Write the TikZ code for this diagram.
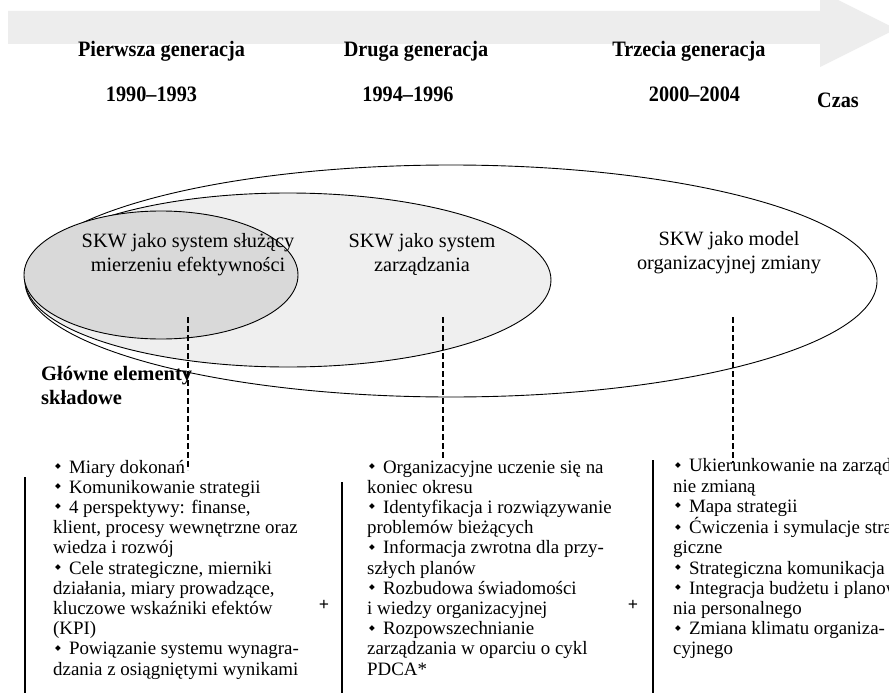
\documentclass[tikz,border=0pt]{standalone}
\usepackage{fontspec}
\setmainfont{Liberation Serif}
\newfontfamily\hdfont[FakeStretch=0.92]{Liberation Serif}
\newfontfamily\symfont{DejaVu Sans}
\usetikzlibrary{shapes.geometric}
\newcommand\bu{\hspace*{2pt}\raisebox{0.24em}{\scalebox{0.4}{\symfont ◆}}\hspace{8pt}}
\definecolor{bandgray}{HTML}{EDEDED}
\definecolor{midgray}{HTML}{EFEFEF}
\definecolor{darkgray}{HTML}{D9D9D9}
\tikzset{
  hdr/.style={font=\hdfont\bfseries\fontsize{22}{24}\selectfont, inner sep=0pt, anchor=base},
  elltxt/.style={font=\fontsize{20.3}{24}\selectfont, align=center, inner sep=0pt, anchor=base},
  coltxt/.style={font=\fontsize{18.9}{20.2}\selectfont, align=left, inner sep=0pt, anchor=base west},
  bigbold/.style={font=\bfseries\fontsize{20.5}{23.5}\selectfont, align=left, inner sep=0pt, anchor=base west},
  plus/.style={font=\bfseries\fontsize{18}{20}\selectfont, inner sep=0pt},
  barline/.style={line width=2.7pt},
  dashline/.style={line width=1.1pt, dash pattern=on 6pt off 3pt},
  ell/.style={ellipse, draw=black, line width=0.9pt, inner sep=0pt}
}
\begin{document}
\begin{tikzpicture}[x=1pt,y=-1pt]
\useasboundingbox (0,0) rectangle (889,693);
\clip (0,0) rectangle (889,693);
\fill[white] (0,0) rectangle (889,693);
% time arrow
\fill[bandgray] (8,11) -- (820,11) -- (820,-9) -- (896,29) -- (820,67) -- (820,44) -- (8,44) -- cycle;
\node[hdr] (g1) at (161.5,57) {Pierwsza generacja};
\node[hdr] (g2) at (416,57) {Druga generacja};
\node[hdr] (g3) at (689,57) {Trzecia generacja};
\node[hdr] (y1) at (151.5,101) {1990–1993};
\node[hdr] (y2) at (408,101) {1994–1996};
\node[hdr] (y3) at (694.5,101) {2000–2004};
\node[hdr] (czas) at (838,107) {Czas};
% ellipses
\node[ell, fill=white, minimum width=852pt, minimum height=232pt] (e3) at (451,281) {};
\node[ell, fill=midgray, minimum width=526pt, minimum height=174pt] (e2) at (288,280) {};
\node[ell, fill=darkgray, minimum width=274pt, minimum height=128pt] (e1) at (161,275) {};
\node[elltxt] (t1) at (188,271) {SKW jako system służący\\mierzeniu efektywności};
\node[elltxt] (t2) at (422,271) {SKW jako system\\zarządzania};
\node[elltxt] (t3) at (729,269) {SKW jako model\\organizacyjnej zmiany};
\node[bigbold] (gl) at (41,404) {Główne elementy\\składowe};
% dashed connectors
\coordinate (d1a) at (188,317); \coordinate (d1b) at (188,470);
\coordinate (d2a) at (443,317); \coordinate (d2b) at (443,460);
\coordinate (d3a) at (733,317); \coordinate (d3b) at (733,463);
\draw[dashline] (d1a) -- (d1b);
\draw[dashline] (d2a) -- (d2b);
\draw[dashline] (d3a) -- (d3b);
% columns
\draw[barline] (25,477) -- (25,693);
\draw[barline] (342,482) -- (342,693);
\draw[barline] (653,460) -- (653,693);
\node[coltxt] (c1) at (53,675) {\bu Miary dokonań\\
\bu Komunikowanie strategii\\
\bu 4 perspektywy: finanse,\\
klient, procesy wewnętrzne oraz\\
wiedza i rozwój\\
\bu Cele strategiczne, mierniki\\
działania, miary prowadzące,\\
kluczowe wskaźniki efektów\\
(KPI)\\
\bu Powiązanie systemu wynagra-\\
dzania z osiągniętymi wynikami};
\node[coltxt] (c2) at (367,675) {\bu Organizacyjne uczenie się na\\
koniec okresu\\
\bu Identyfikacja i rozwiązywanie\\
problemów bieżących\\
\bu Informacja zwrotna dla przy-\\
szłych planów\\
\bu Rozbudowa świadomości\\
i wiedzy organizacyjnej\\
\bu Rozpowszechnianie\\
zarządzania w oparciu o cykl\\
PDCA*};
\node[coltxt] (c3) at (673,654.8) {\bu Ukierunkowanie na zarządza-\\
nie zmianą\\
\bu Mapa strategii\\
\bu Ćwiczenia i symulacje strate-\\
giczne\\
\bu Strategiczna komunikacja\\
\bu Integracja budżetu i planowa-\\
nia personalnego\\
\bu Zmiana klimatu organiza-\\
cyjnego};
\node[plus] (p1) at (324,605) {+};
\node[plus] (p2) at (633,605) {+};
\end{tikzpicture}
\end{document}
